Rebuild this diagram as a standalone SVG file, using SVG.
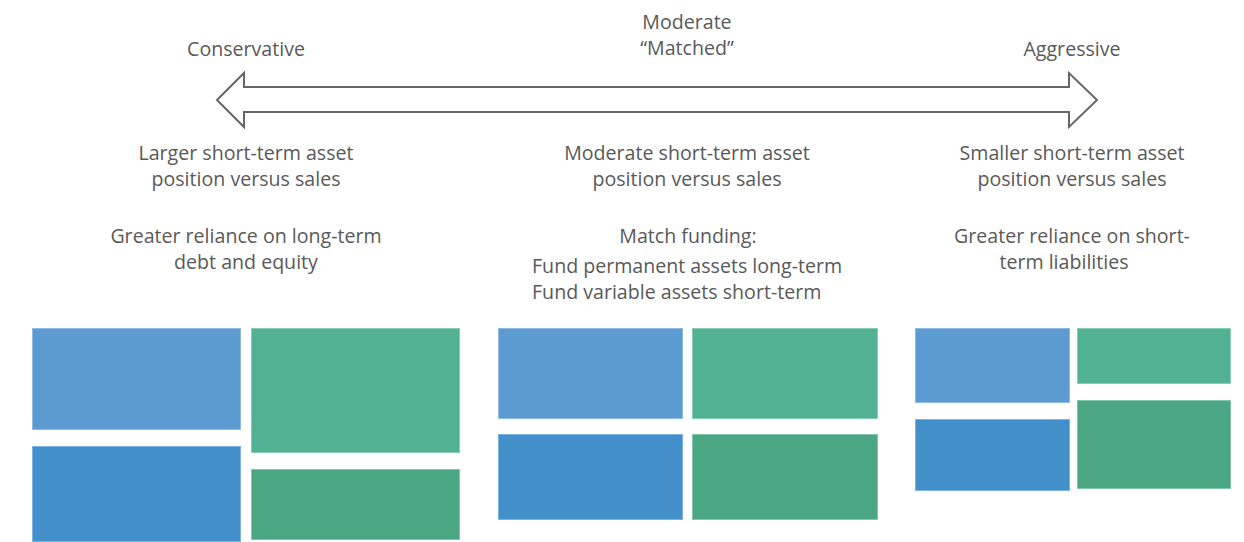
<svg xmlns="http://www.w3.org/2000/svg" width="1244" height="542" viewBox="0 0 1244 542">
<style>
text{font-family:"Open Sans","Liberation Sans",sans-serif;font-size:19.6px;fill:#595959;text-anchor:middle}
text.l{text-anchor:start}
.b1{fill:#5B9BD2;stroke:#8DBBE4;stroke-width:1}
.b2{fill:#428FCA;stroke:#7FB2DE;stroke-width:1}
.g1{fill:#52B193;stroke:#86CDB5;stroke-width:1}
.g2{fill:#4BA684;stroke:#82C6AD;stroke-width:1}
</style>
<rect width="1244" height="542" fill="#fff"/>
<g id="connectors">
<path d="M217,100 L244,73 L244,87 L1069,87 L1069,73 L1097,100 L1069,127 L1069,112 L244,112 L244,127 Z" fill="#fff" stroke="#666" stroke-width="2" stroke-linejoin="miter"/>
</g>
<g id="conservative">
<text x="246" y="56">Conservative</text>
<text x="246" y="160">Larger short-term asset</text>
<text x="246" y="186">position versus sales</text>
<text x="246" y="243">Greater reliance on long-term</text>
<text x="246" y="269">debt and equity</text>
<rect class="b1" x="32.5" y="328.5" width="208" height="101"/>
<rect class="b2" x="32.5" y="446.5" width="208" height="95"/>
<rect class="g1" x="251.5" y="328.5" width="208" height="124"/>
<rect class="g2" x="251.5" y="469.5" width="208" height="70"/>
</g>
<g id="moderate">
<text x="687" y="29">Moderate</text>
<text x="687" y="55">“Matched”</text>
<text x="687" y="160">Moderate short-term asset</text>
<text x="687" y="186">position versus sales</text>
<text x="688" y="243">Match funding:</text>
<text class="l" x="532" y="273">Fund permanent assets long-term</text>
<text class="l" x="532" y="299">Fund variable assets short-term</text>
<rect class="b1" x="498.5" y="328.5" width="184" height="90"/>
<rect class="b2" x="498.5" y="434.5" width="184" height="85"/>
<rect class="g1" x="692.5" y="328.5" width="185" height="90"/>
<rect class="g2" x="692.5" y="434.5" width="185" height="85"/>
</g>
<g id="aggressive">
<text x="1072" y="56">Aggressive</text>
<text x="1072" y="160">Smaller short-term asset</text>
<text x="1072" y="186">position versus sales</text>
<text x="1072" y="243">Greater reliance on short-</text>
<text x="1064" y="269">term liabilities</text>
<rect class="b1" x="915.5" y="328.5" width="154" height="74"/>
<rect class="b2" x="915.5" y="419.5" width="154" height="71"/>
<rect class="g1" x="1077.5" y="328.5" width="153" height="55"/>
<rect class="g2" x="1077.5" y="400.5" width="153" height="88"/>
</g>
</svg>
